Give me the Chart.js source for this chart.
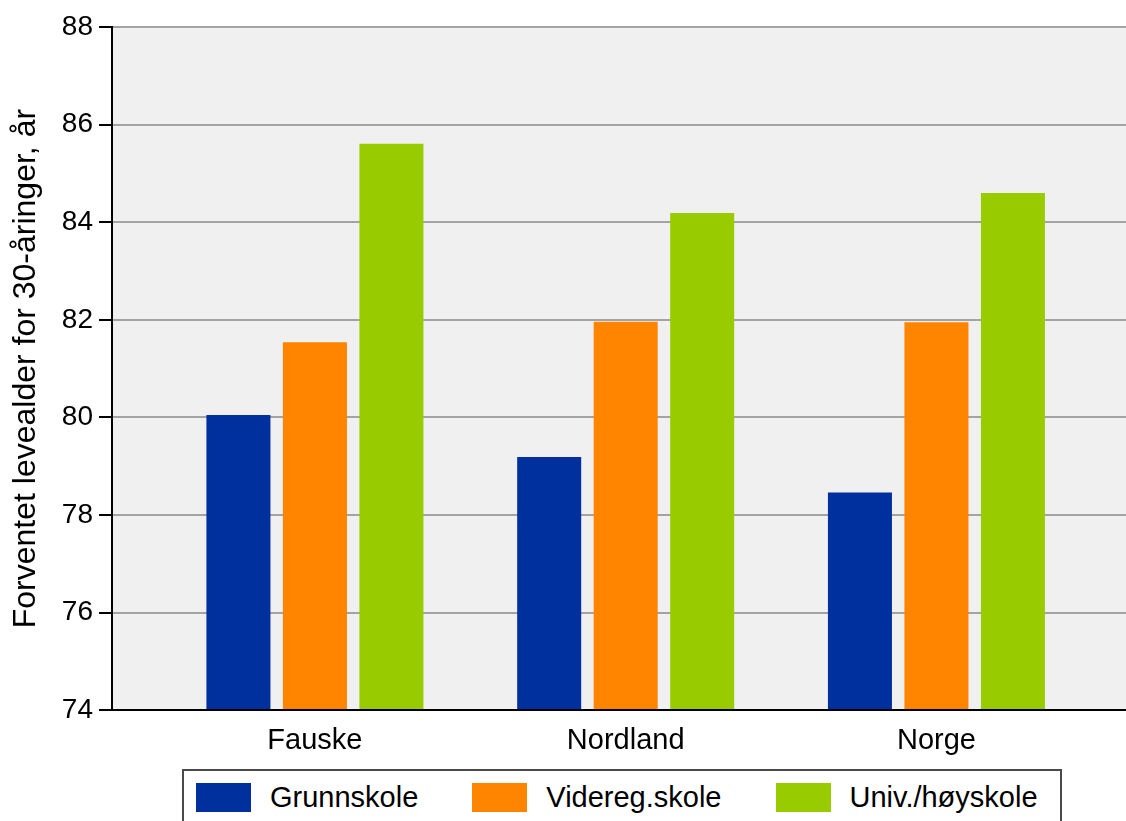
<!DOCTYPE html>
<html>
<head>
<meta charset="utf-8">
<script src="https://cdn.jsdelivr.net/npm/chart.js@4/dist/chart.umd.min.js"></script>
<style>
html,body{margin:0;padding:0;background:#fff;overflow:hidden;}
#wrap{position:relative;width:1126px;height:821px;overflow:hidden;}
#c{position:absolute;left:0;top:0;}
#legend{position:absolute;left:182px;top:769px;width:880px;height:80px;border:2px solid #4a4a4a;box-sizing:border-box;
  font-family:"Liberation Sans",Arial,sans-serif;font-size:29px;color:#000;display:flex;align-items:flex-start;padding:12px 0 0 12px;background:#fff;}
.item{display:flex;align-items:center;height:29px;margin-right:54px;}
.sw{width:55px;height:29px;margin-right:19px;flex:none;}
.lbl{line-height:29px;white-space:nowrap;}
</style>
</head>
<body>
<div id="wrap">
  <canvas id="c" width="1126" height="821"></canvas>
  <div id="legend"></div>
</div>
<script>
// ---- data ----
const categories = ["Fauske", "Nordland", "Norge"];
const seriesNames = ["Grunnskole", "Videreg.skole", "Univ./høyskole"];
const grunnskole = [80.05, 79.19, 78.46];
const videregskole = [81.54, 81.96, 81.95];
const univHoyskole = [85.61, 84.19, 84.60];
const yTicks = [74, 76, 78, 80, 82, 84, 86, 88];
const yTitle = "Forventet levealder for 30-åringer, år";
const seriesColors = ["#00309e", "#ff8400", "#99cc00"];

const FONT = '"Liberation Sans", Arial, sans-serif';
Chart.defaults.font.family = FONT;
Chart.defaults.color = '#000';

const seriesValues = [grunnskole, videregskole, univHoyskole];
const datasets = seriesNames.map((name, s) => ({
  label: name,
  data: seriesValues[s].map((v, i) => ({ x: i, y: v })),
  backgroundColor: seriesColors[s],
  borderWidth: 0,
  categoryPercentage: 0.7385,
  barPercentage: 0.837
}));

const plotBg = {
  id: 'plotBg',
  beforeDraw(chart) {
    const a = chart.chartArea, ctx = chart.ctx;
    ctx.save();
    ctx.fillStyle = '#f0f0f0';
    ctx.fillRect(a.left, a.top, a.right - a.left, a.bottom - a.top);
    ctx.restore();
  }
};

const chart = new Chart(document.getElementById('c'), {
  type: 'bar',
  data: { datasets },
  plugins: [plotBg],
  options: {
    responsive: false,
    animation: false,
    devicePixelRatio: 1,
    layout: { padding: { top: 27, right: 0, bottom: 50, left: 0 } },
    plugins: { legend: { display: false }, tooltip: { enabled: false } },
    scales: {
      x: {
        type: 'linear',
        offset: false,
        min: -0.653,
        max: 2.61,
        afterBuildTicks(s) { s.ticks = categories.map((_, i) => ({ value: i })); },
        ticks: {
          callback: (v) => categories[v],
          font: { size: 29 },
          color: '#000',
          padding: 13,
          autoSkip: false,
          maxRotation: 0
        },
        grid: { display: false, drawTicks: false },
        border: { color: '#000', width: 2, z: 1 }
      },
      y: {
        min: yTicks[0],
        max: yTicks[yTicks.length - 1],
        afterBuildTicks(s) { s.ticks = yTicks.map(v => ({ value: v })); },
        ticks: { font: { size: 28 }, color: '#000', padding: 6 },
        grid: { color: '#a3a3a3', lineWidth: 2, tickColor: '#000', tickLength: 13, tickWidth: 2 },
        border: { color: '#000', width: 2, z: 1 },
        title: {
          display: true,
          text: yTitle,
          color: '#000',
          font: { size: 32 },
          padding: { top: 7, bottom: 0 }
        },
        afterFit(s) { s.width = 112; }
      }
    }
  }
});

// HTML legend built from the chart's datasets
const legendEl = document.getElementById('legend');
chart.data.datasets.forEach(ds => {
  const item = document.createElement('div');
  item.className = 'item';
  const sw = document.createElement('span');
  sw.className = 'sw';
  sw.style.background = ds.backgroundColor;
  const lbl = document.createElement('span');
  lbl.className = 'lbl';
  lbl.textContent = ds.label;
  item.appendChild(sw);
  item.appendChild(lbl);
  legendEl.appendChild(item);
});
</script>
</body>
</html>
